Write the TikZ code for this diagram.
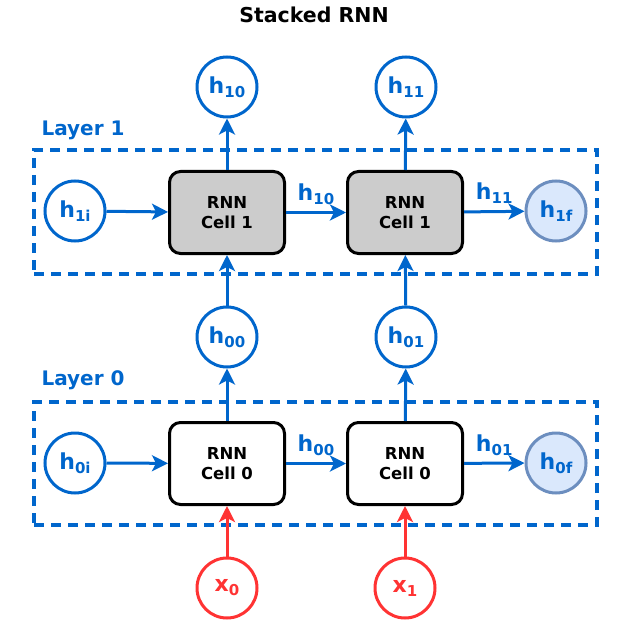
\documentclass[tikz,border=0pt]{standalone}
\usepackage{fontspec}
\setmainfont{DejaVu Sans}
\usetikzlibrary{arrows.meta}
\definecolor{cblue}{RGB}{0,102,204}
\definecolor{cred}{RGB}{255,51,51}
\definecolor{lfill}{RGB}{218,232,252}
\definecolor{ldraw}{RGB}{108,142,191}
\definecolor{cgray}{RGB}{204,204,204}
\newcommand{\hs}[2]{{\fontsize{22}{22}\selectfont #1}\raisebox{-4pt}{\fontsize{15}{15}\selectfont #2}}
\begin{document}
\begin{tikzpicture}[x=1pt,y=-1pt,
  circ/.style={circle, draw=cblue, line width=3pt, minimum size=60pt, inner sep=0pt, text=cblue, font=\bfseries},
  finalc/.style={circ, draw=ldraw, fill=lfill},
  xcirc/.style={circ, draw=cred, text=cred},
  cell/.style={draw=black, line width=3pt, rounded corners=11pt, minimum width=115pt, minimum height=82pt, align=center, font=\bfseries\fontsize{16.5}{20}\selectfont, fill=white},
  cellg/.style={cell, fill=cgray},
  layerbox/.style={draw=cblue, line width=3.2pt, dash pattern=on 10pt off 7pt, minimum width=563pt, inner sep=0pt},
  layerlab/.style={anchor=west, text=cblue, font=\bfseries\fontsize{20}{20}\selectfont},
  arr/.style={cblue, line width=3pt, -{Stealth[length=16pt,width=16pt,inset=4pt]}},
  xarr/.style={arr, cred},
  elab/.style={text=cblue, font=\bfseries}
]
\useasboundingbox (0,0) rectangle (628,628);
\node[font=\bfseries\fontsize{20.5}{20}\selectfont] (title) at (314,15) {Stacked RNN};

\node[layerbox, minimum height=124pt] (L1) at (315.5,212) {};
\node[layerbox, minimum height=123pt] (L0) at (315.5,463.5) {};
\node[layerlab] (L1lab) at (38,130) {Layer 1};
\node[layerlab] (L0lab) at (38,380) {Layer 0};

\node[circ] (h10) at (227,87) {\hs{h}{10}};
\node[circ] (h11) at (406,87) {\hs{h}{11}};

\node[circ] (h1i) at (75,211) {\hs{h}{1i}};
\node[cellg] (c10) at (227,212.5) {RNN\\Cell 1};
\node[cellg] (c11) at (405,212.5) {RNN\\Cell 1};
\node[finalc] (h1f) at (556,211) {\hs{h}{1f}};

\node[circ] (h00) at (227,337) {\hs{h}{00}};
\node[circ] (h01) at (406,337) {\hs{h}{01}};

\node[circ] (h0i) at (75,463) {\hs{h}{0i}};
\node[cell] (c00) at (227,463.5) {RNN\\Cell 0};
\node[cell] (c01) at (405,463.5) {RNN\\Cell 0};
\node[finalc] (h0f) at (556,463) {\hs{h}{0f}};

\node[xcirc] (x0) at (227,588) {\hs{x}{0}};
\node[xcirc] (x1) at (405,588) {\hs{x}{1}};

% layer 1
\draw[arr] (h1i) -- (c10);
\draw[arr] (c10) -- node[elab, above=3pt] (l10) {\hs{h}{10}} (c11);
\draw[arr] (c11) -- node[elab, above=3pt] (l11) {\hs{h}{11}} (h1f);
\draw[arr] (c10) -- (h10);
\draw[arr] (c11) -- (h11);
\draw[arr] (h00) -- (c10);
\draw[arr] (h01) -- (c11);
% layer 0
\draw[arr] (h0i) -- (c00);
\draw[arr] (c00) -- node[elab, above=3pt] (l00) {\hs{h}{00}} (c01);
\draw[arr] (c01) -- node[elab, above=3pt] (l01) {\hs{h}{01}} (h0f);
\draw[arr] (c00) -- (h00);
\draw[arr] (c01) -- (h01);
\draw[xarr] (x0) -- (c00);
\draw[xarr] (x1) -- (c01);
\end{tikzpicture}
\end{document}
